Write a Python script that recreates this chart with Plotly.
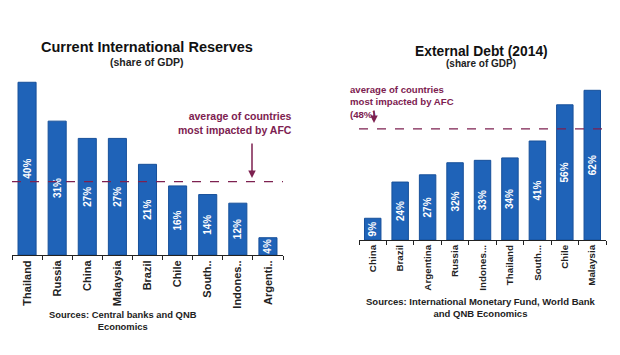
import plotly.graph_objects as go

W, H = 620, 355

res_countries = ["Thailand", "Russia", "China", "Malaysia", "Brazil", "Chile", "South..", "Indones..", "Argenti.."]
res_values = [40, 31, 27, 27, 21, 16, 14, 12, 4]
res_avg = 17

debt_countries = ["China", "Brazil", "Argentina", "Russia", "Indones...", "Thailand", "South...", "Chile", "Malaysia"]
debt_values = [9, 24, 27, 32, 33, 34, 41, 56, 62]
debt_avg = 46

BAR = "#1f63b8"
EDGE = "#17509a"
MAROON = "#7d2150"
FONT = "Liberation Sans"


def px(x):
    return x / W


def py(y):
    return 1 - y / H


fig = go.Figure()

fig.add_trace(go.Bar(
    x=res_countries, y=res_values, xaxis="x", yaxis="y",
    marker=dict(color=BAR, line=dict(color=EDGE, width=1)),
    text=[f"{v}%" for v in res_values], textposition="inside",
    insidetextanchor="middle", textangle=-90,
    textfont=dict(color="white", size=10, family=FONT, weight="bold"),
    constraintext="none", cliponaxis=False, showlegend=False, hoverinfo="skip",
))
fig.add_trace(go.Bar(
    x=debt_countries, y=debt_values, xaxis="x2", yaxis="y2",
    marker=dict(color=BAR, line=dict(color=EDGE, width=1)),
    text=[f"{v}%" for v in debt_values], textposition="inside",
    insidetextanchor="middle", textangle=-90,
    textfont=dict(color="white", size=10, family=FONT, weight="bold"),
    constraintext="none", cliponaxis=False, showlegend=False, hoverinfo="skip",
))

xcommon = dict(type="category", showline=True, linecolor="#222", linewidth=1,
               ticks="outside", ticklen=4, tickcolor="#222", tickson="boundaries",
               tickangle=-90, showgrid=False, zeroline=False, automargin=False)

fig.update_layout(
    width=W, height=H, margin=dict(l=0, r=0, t=0, b=0),
    paper_bgcolor="white", plot_bgcolor="white",
    bargap=0.4,
    font=dict(family=FONT),
    xaxis=dict(domain=[px(12), px(283)], anchor="y",
               tickfont=dict(size=11, color="#222", family=FONT, weight="bold"), **xcommon),
    yaxis=dict(domain=[py(255), py(65)], range=[0, 44], visible=False, anchor="x", automargin=False),
    xaxis2=dict(domain=[px(359), px(606)], anchor="y2",
                tickfont=dict(size=9.8, color="#222", family=FONT, weight="bold"), **xcommon),
    yaxis2=dict(domain=[py(240), py(71)], range=[0, 70], visible=False, anchor="x2", automargin=False),
)

fig.add_shape(type="line", xref="x domain", yref="y", x0=0, x1=1, y0=res_avg, y1=res_avg,
              line=dict(color=MAROON, width=1.3, dash="dash"))
fig.add_shape(type="line", xref="x2 domain", yref="y2", x0=0, x1=1, y0=debt_avg, y1=debt_avg,
              line=dict(color=MAROON, width=1.3, dash="dash"))

anns = [
    dict(text="<b>Current International Reserves</b>", x=px(147), y=py(47), size=14.5, color="#111"),
    dict(text="<b>(share of GDP)</b>", x=px(147), y=py(62), size=10.5, color="#222"),
    dict(text="<b>External Debt (2014)</b>", x=px(481), y=py(51), size=13.8, color="#111"),
    dict(text="<b>(share of GDP)</b>", x=px(481), y=py(64), size=10, color="#222"),
    dict(text="<b>Sources: Central banks and QNB<br>Economics</b>", x=px(123), y=py(320), size=9.4, color="#222"),
    dict(text="<b>Sources: International Monetary Fund, World Bank<br>and QNB Economics</b>", x=px(481), y=py(307), size=9.5, color="#222"),
]
for a in anns:
    fig.add_annotation(xref="paper", yref="paper", x=a["x"], y=a["y"], text=a["text"],
                       showarrow=False, xanchor="center", yanchor="middle",
                       font=dict(size=a["size"], color=a["color"], family=FONT))

fig.add_annotation(xref="paper", yref="paper", x=px(294), y=py(123), xanchor="right", yanchor="middle",
                   align="right", showarrow=False,
                   text="<b>average of countries<br>most impacted by AFC</b>",
                   font=dict(size=10.5, color=MAROON, family=FONT))
fig.add_annotation(xref="paper", yref="paper", x=px(348), y=py(102), xanchor="left", yanchor="middle",
                   align="left", showarrow=False,
                   text="<b>average of countries<br>most impacted by AFC<br>(48%)</b>",
                   font=dict(size=9.6, color=MAROON, family=FONT))

# arrows
fig.add_annotation(xref="paper", yref="paper", x=px(252), y=py(178), ax=0, ay=-36,
                   text="", showarrow=True,
                   arrowhead=2, arrowsize=1, arrowwidth=1.5, arrowcolor=MAROON)
fig.add_annotation(xref="paper", yref="paper", x=px(374), y=py(123), ax=0, ay=-14,
                   text="", showarrow=True,
                   arrowhead=2, arrowsize=1, arrowwidth=1.5, arrowcolor=MAROON)

fig.write_html("out.html", config={"displayModeBar": False},
               post_script="document.body.style.margin='0';document.body.style.overflow='hidden';")
